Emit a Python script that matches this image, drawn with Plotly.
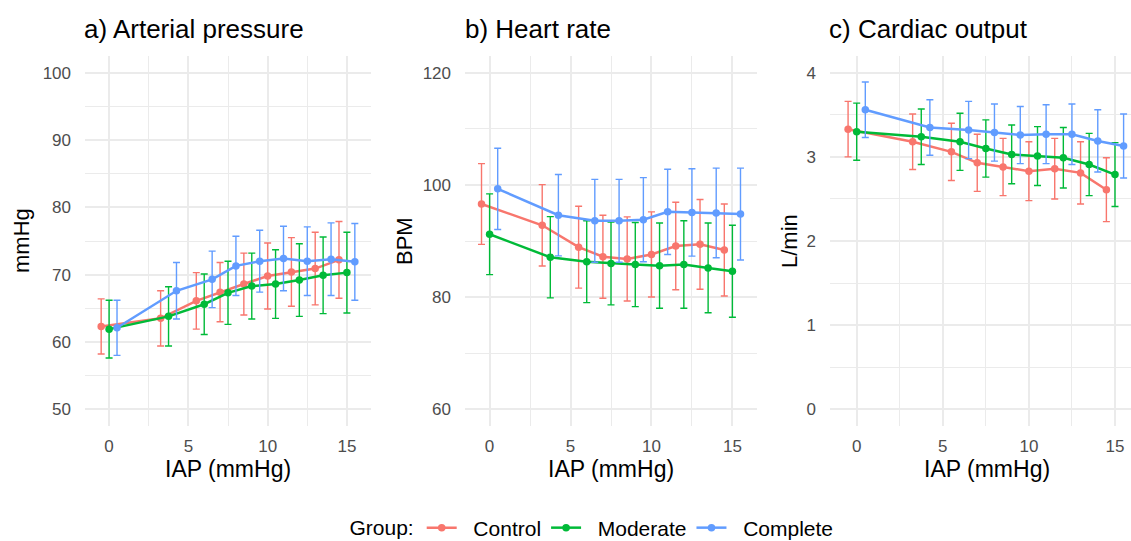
import plotly.graph_objects as go

# ---------------- data ----------------
groups = ["Control", "Moderate", "Complete"]
colors = ["#F8766D", "#00BA38", "#619CFF"]
iap = [0, 3.75, 6, 7.5, 9, 10.5, 12, 13.5, 15]
dodge = [-0.5, 0.0, 0.5]

map_control = [62.3, 63.5, 66.1, 67.4, 68.6, 69.8, 70.4, 70.9, 72.2]
map_moderate = [61.9, 63.8, 65.6, 67.3, 68.3, 68.6, 69.2, 69.9, 70.3]
map_complete = [62.1, 67.6, 69.3, 71.3, 72.0, 72.4, 72.0, 72.3, 71.9]
map_sd_control = [4.1, 4.1, 4.2, 4.4, 4.6, 4.9, 5.1, 5.4, 5.7]
map_sd_moderate = [4.3, 4.4, 4.5, 4.7, 4.9, 5.1, 5.4, 5.7, 6.0]
map_sd_complete = [4.1, 4.2, 4.2, 4.4, 4.6, 4.8, 5.1, 5.4, 5.7]

hr_control = [96.6, 92.8, 88.9, 87.2, 86.8, 87.6, 89.1, 89.4, 88.4]
hr_moderate = [91.2, 87.1, 86.3, 86.0, 85.8, 85.6, 85.8, 85.2, 84.6]
hr_complete = [99.3, 94.6, 93.6, 93.6, 93.8, 95.2, 95.1, 95.0, 94.8]
hr_sd_control = [7.2, 7.25, 7.3, 7.4, 7.5, 7.6, 7.8, 8.0, 8.2]
hr_sd_moderate = [7.2, 7.25, 7.3, 7.4, 7.5, 7.6, 7.8, 8.0, 8.2]
hr_sd_complete = [7.25, 7.25, 7.4, 7.4, 7.5, 7.6, 7.8, 8.0, 8.2]

co_control = [3.33, 3.18, 3.06, 2.93, 2.88, 2.83, 2.86, 2.81, 2.61]
co_moderate = [3.30, 3.24, 3.18, 3.10, 3.03, 3.01, 2.99, 2.91, 2.79]
co_complete = [3.56, 3.35, 3.32, 3.29, 3.26, 3.27, 3.27, 3.19, 3.13]
co_sd_control = [0.33, 0.33, 0.34, 0.34, 0.34, 0.35, 0.36, 0.37, 0.38]
co_sd_moderate = [0.34, 0.33, 0.34, 0.34, 0.35, 0.35, 0.36, 0.37, 0.38]
co_sd_complete = [0.33, 0.33, 0.34, 0.34, 0.34, 0.35, 0.36, 0.37, 0.38]

panels = [
    dict(title="a) Arterial pressure", ylab="mmHg",
         means=[map_control, map_moderate, map_complete],
         sds=[map_sd_control, map_sd_moderate, map_sd_complete],
         yrange=[47.5, 102.5], ytick=10, ymin=50, ymax=100),
    dict(title="b) Heart rate", ylab="BPM",
         means=[hr_control, hr_moderate, hr_complete],
         sds=[hr_sd_control, hr_sd_moderate, hr_sd_complete],
         yrange=[57, 123], ytick=20, ymin=60, ymax=120),
    dict(title="c) Cardiac output", ylab="L/min",
         means=[co_control, co_moderate, co_complete],
         sds=[co_sd_control, co_sd_moderate, co_sd_complete],
         yrange=[-0.2, 4.2], ytick=1, ymin=0, ymax=4),
]

# ---------------- layout geometry (pixels) ----------------
W, H = 1131, 541
FONT = "Liberation Sans, Arial, Helvetica, sans-serif"
NB = "\u00a0"
panel_px = [(85, 371), (465, 757), (830, 1131)]
panel_title_x = [82, 463, 827]
ylab_x = [21, 404, 789]
xlab_center = [228, 611, 987]
xranges = [[-1.52, 16.52], [-1.52, 16.52], [-1.55, 15.93]]
top_px, bot_px = 56, 426

fig = go.Figure()
annotations = []
layout_axes = {}

for p, pan in enumerate(panels):
    suffix = "" if p == 0 else str(p + 1)
    for g in range(3):
        fig.add_trace(go.Scatter(
            x=[v + dodge[g] for v in iap],
            y=pan["means"][g],
            mode="lines+markers",
            name=NB * 2 + groups[g],
            legendgroup=groups[g],
            showlegend=(p == 0),
            line=dict(color=colors[g], width=2.5),
            marker=dict(color=colors[g], size=7.5),
            error_y=dict(type="data", array=pan["sds"][g], visible=True,
                         color=colors[g], thickness=1.4, width=3.5),
            xaxis="x" + suffix, yaxis="y" + suffix,
            cliponaxis=True,
        ))
    x0, x1 = panel_px[p]
    layout_axes["xaxis" + suffix] = dict(
        domain=[x0 / W, x1 / W], range=xranges[p], anchor="y" + suffix,
        tickvals=[0, 5, 10, 15], showgrid=True, gridcolor="#EBEBEB", gridwidth=2,
        minor=dict(dtick=2.5, tick0=0, showgrid=True, gridcolor="#EBEBEB", gridwidth=1.1),
        zeroline=False, showline=False, ticks="", automargin=False,
        tickfont=dict(family=FONT, size=17, color="#4D4D4D"),
        ticklabelstandoff=8, fixedrange=True,
    )
    yt = list(range(pan["ymin"], pan["ymax"] + 1, pan["ytick"]))
    layout_axes["yaxis" + suffix] = dict(
        domain=[(H - bot_px) / H, (H - top_px) / H], range=pan["yrange"],
        anchor="x" + suffix, tickvals=yt,
        showgrid=True, gridcolor="#EBEBEB", gridwidth=2,
        minor=dict(dtick=pan["ytick"] / 2, tick0=pan["ymin"], showgrid=True,
                   gridcolor="#EBEBEB", gridwidth=1.1),
        zeroline=False, showline=False, ticks="", automargin=False,
        tickfont=dict(family=FONT, size=17, color="#4D4D4D"),
        ticklabelstandoff=13, fixedrange=True,
    )
    annotations.append(dict(text=pan["title"], xref="paper", yref="paper",
                            x=panel_title_x[p] / W, y=(H - 29) / H,
                            xanchor="left", yanchor="middle", showarrow=False,
                            font=dict(family=FONT, size=26, color="black")))
    annotations.append(dict(text=pan["ylab"], xref="paper", yref="paper",
                            x=ylab_x[p] / W, y=(H - (top_px + bot_px) / 2) / H,
                            xanchor="center", yanchor="middle", textangle=-90,
                            showarrow=False,
                            font=dict(family=FONT, size=22, color="black")))
    annotations.append(dict(text="IAP (mmHg)", xref="paper", yref="paper",
                            x=xlab_center[p] / W, y=(H - 469) / H,
                            xanchor="center", yanchor="middle", showarrow=False,
                            font=dict(family=FONT, size=23, color="black")))

fig.update_layout(
    width=W, height=H,
    margin=dict(l=0, r=0, t=0, b=0, autoexpand=False),
    paper_bgcolor="white", plot_bgcolor="white",
    font=dict(family=FONT, size=16, color="black"),
    annotations=annotations,
    showlegend=True,
    legend=dict(orientation="h", x=593 / W, xanchor="center",
                y=(H - 528) / H, yanchor="middle",
                title=dict(text="Group:", side="left",
                           font=dict(family=FONT, size=21, color="black")),
                font=dict(family=FONT, size=21, color="black"),
                itemwidth=30, bgcolor="rgba(0,0,0,0)"),
    **layout_axes,
)

fig.write_html("out.html", config=dict(displayModeBar=False))
